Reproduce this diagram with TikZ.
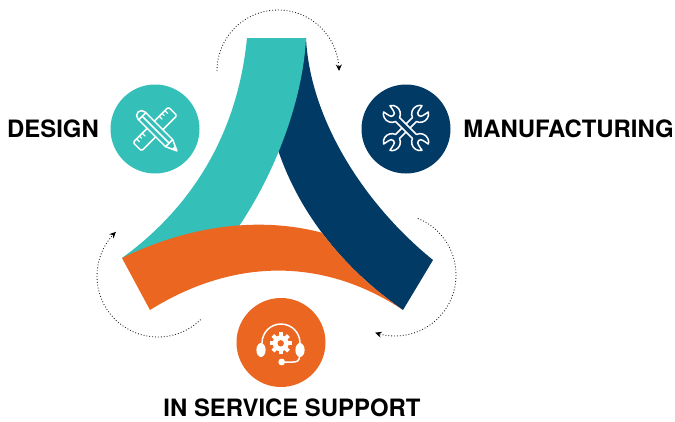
\documentclass[tikz,border=0pt]{standalone}
\usepackage{fontspec}
\setmainfont{TeX Gyre Heros}
\usetikzlibrary{arrows.meta}
\definecolor{tealc}{HTML}{34BFB8}
\definecolor{navyc}{HTML}{023A66}
\definecolor{orangec}{HTML}{EA6621}
\tikzset{
  lbl/.style={font=\fontsize{23.9}{26}\selectfont\bfseries,text=black,inner sep=0pt},
  disc/.style={circle,minimum size=89pt,inner sep=0pt,draw=none},
  orbit/.style={line width=0.9pt,dotted,black!85,-{Stealth[length=6.5pt,width=6pt,black]}},
  ico/.style={draw=white,line width=1.5pt,line join=round,line cap=round},
}
\begin{document}
\begin{tikzpicture}[x=1pt,y=-1pt]
\useasboundingbox (0,0) rectangle (675,421);
% bands
\fill[navyc] (306,38) .. controls (310,120) and (365,205) .. (433,260) -- (403,310) .. controls (345,270) and (300,215) .. (278,150) -- (270,120) -- (296,38) -- cycle;
\fill[tealc] (247,38) -- (306,38) .. controls (303,100) and (275,175) .. (235,232) -- (225,250) -- (122,258) .. controls (195,205) and (238,130) .. (247,38) -- cycle;
\begin{scope}
\clip (122,258) -- (278,150) .. controls (300,215) and (345,270) .. (403,310) -- (403,330) -- (100,330) -- cycle;
\fill[orangec] (122,258) .. controls (190,225) and (270,212) .. (345,240) -- (403,310) .. controls (320,255) and (230,260) .. (150,310) -- cycle;
\end{scope}
% discs
\node[disc,fill=tealc] (design) at (155,129) {};
\node[disc,fill=navyc] (manuf) at (406,129) {};
\node[disc,fill=orangec] (support) at (281,342.5) {};
% labels
\node[lbl] (tdesign) at (53,129) {DESIGN};
\node[lbl] (tmanuf) at (568.5,129) {MANUFACTURING};
\node[lbl] (tsupport) at (292,408) {IN SERVICE SUPPORT};
% orbits
\draw[orbit] plot[domain=180:0,samples=90] ({278+61*cos(\x)},{71-61*sin(\x)});
\draw[orbit] plot[domain=-45.6:-226.4,samples=90] ({158+61*cos(\x)},{276-61*sin(\x)});
\draw[orbit] plot[domain=68:-109,samples=90] ({395+61*cos(\x)},{275-61*sin(\x)});
% design icon
\begin{scope}[shift={(155,129)},x=1pt,y=1pt,rotate=45]
  \draw[ico,fill=tealc,rounded corners=1.5pt] (-25,-6) rectangle (25,6);
  \foreach \t/\l in {-20/4,-16/3,-12/4,12/4,16/3,20/4}{\draw[ico,line width=1.2pt] (\t,6) -- (\t,6-\l);}
\end{scope}
\begin{scope}[shift={(155,129)},x=1pt,y=1pt,rotate=-45]
  \draw[ico,fill=tealc] (-19,5) -- (20,5) -- (31,0) -- (20,-5) -- (-19,-5) arc[start angle=270,end angle=90,radius=5] -- cycle;
  \draw[ico] (-18,5) -- (-18,-5) (-18,0) -- (20,0) (20,5) -- (20,-5);
  \fill[white] (31,0) -- (26,2.3) -- (26,-2.3) -- cycle;
\end{scope}
% wrench icon
\foreach \r in {45,-45}{
\begin{scope}[shift={(406,128)},x=1pt,y=1pt,rotate=\r]
  \draw[ico,fill=navyc] (-11.97,2.8) -- (11.97,2.8)
    arc[start angle=160.8,end angle=32,radius=8.5] -- (21,3.2) arc[start angle=90,end angle=270,radius=3.2] -- (27.2,-4.5)
    arc[start angle=-32,end angle=-160.8,radius=8.5] -- (-11.97,-2.8)
    arc[start angle=-19.2,end angle=-148,radius=8.5] -- (-21,-3.2) arc[start angle=-90,end angle=90,radius=3.2] -- (-27.2,4.5)
    arc[start angle=148,end angle=19.2,radius=8.5] -- cycle;
\end{scope}}
% headset icon
\draw[ico] (262,343) arc[start angle=180,end angle=360,radius=19];
\fill[white] (261,350) ellipse [x radius=4.6,y radius=7];
\fill[white] (300,350) ellipse [x radius=4.6,y radius=7];
\draw[ico] (299.5,356) .. controls (299.5,361) and (297,362) .. (293,362) -- (282,362);
\fill[white] (281.7,362) circle (3.4);
\foreach \a in {0,45,...,315}{\draw[white,line width=4pt] (280.7,343.3) ++(\a:6) -- ++(\a:5);}
\fill[white] (280.7,343.3) circle (8);
\fill[orangec] (280.7,343.3) circle (3.2);
\end{tikzpicture}
\end{document}
